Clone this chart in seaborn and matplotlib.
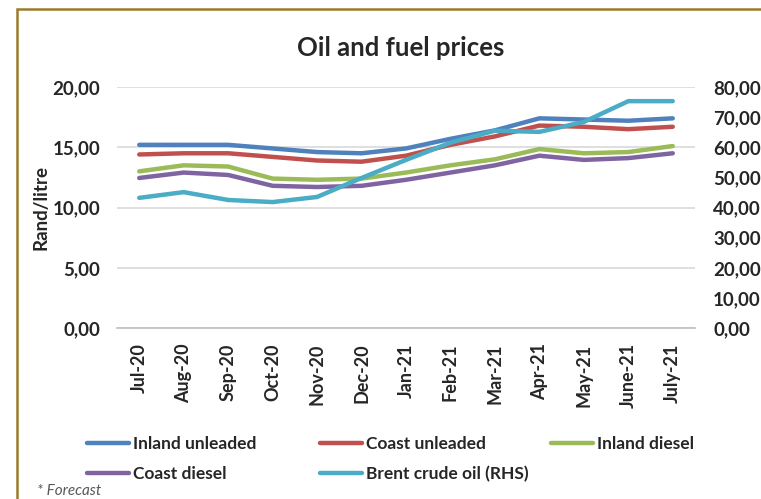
import numpy as np
import pandas as pd
import matplotlib
matplotlib.use("Agg")
import matplotlib.pyplot as plt
import seaborn as sns
from matplotlib.lines import Line2D
from matplotlib.patches import Rectangle
from matplotlib.ticker import FuncFormatter, MultipleLocator

months = ["Jul-20", "Aug-20", "Sep-20", "Oct-20", "Nov-20", "Dec-20", "Jan-21",
          "Feb-21", "Mar-21", "Apr-21", "May-21", "June-21", "July-21"]
inland_unleaded = [15.2, 15.2, 15.2, 14.9, 14.6, 14.5, 14.9, 15.7, 16.4, 17.4, 17.3, 17.2, 17.4]
coast_unleaded = [14.4, 14.5, 14.5, 14.2, 13.9, 13.8, 14.3, 15.2, 15.9, 16.8, 16.7, 16.5, 16.7]
inland_diesel = [13.0, 13.5, 13.4, 12.4, 12.3, 12.4, 12.9, 13.5, 14.0, 14.85, 14.5, 14.6, 15.1]
coast_diesel = [12.45, 12.9, 12.7, 11.8, 11.7, 11.8, 12.3, 12.9, 13.5, 14.3, 13.95, 14.1, 14.5]
brent = [43.2, 45.1, 42.5, 41.8, 43.5, 49.8, 55.8, 61.5, 65.5, 65.1, 68.4, 75.3, 75.3]

names = ["Inland unleaded", "Coast unleaded", "Inland diesel", "Coast diesel"]
colors = ["#4F81BD", "#C0504D", "#9BBB59", "#8064A2"]
brent_name = "Brent crude oil (RHS)"
brent_color = "#4BACC6"

sns.set_style("white")
plt.rcParams["font.family"] = ["Lato", "DejaVu Sans"]

df = pd.DataFrame({"month": months, **dict(zip(names, [inland_unleaded, coast_unleaded,
                                                       inland_diesel, coast_diesel]))})
long = df.melt(id_vars="month", var_name="series", value_name="price")
df_brent = pd.DataFrame({"month": months, "brent": brent})

fig = plt.figure(figsize=(7.61, 4.99), dpi=100)
ax = fig.add_axes([117 / 761, 1 - 328 / 499, (695 - 117) / 761, (328 - 87) / 499])
ax2 = ax.twinx()

sns.lineplot(data=long, x="month", y="price", hue="series", hue_order=names,
             palette=colors, sort=False, lw=3.2, legend=False, ax=ax)
sns.lineplot(data=df_brent, x="month", y="brent", color=brent_color, sort=False,
             lw=3.2, legend=False, ax=ax2)

ax.set_ylim(0, 20)
ax2.set_ylim(0, 80)
ax.set_xlim(-0.5, len(months) - 0.5)
ax.yaxis.set_major_locator(MultipleLocator(5))
ax2.yaxis.set_major_locator(MultipleLocator(10))
fmt = FuncFormatter(lambda v, p: f"{v:.2f}".replace(".", ","))
ax.yaxis.set_major_formatter(fmt)
ax2.yaxis.set_major_formatter(fmt)
ax.grid(axis="y", color="#D9D9D9", lw=1.2)
ax.set_axisbelow(True)

for a in (ax, ax2):
    for s in ["top", "left", "right"]:
        a.spines[s].set_visible(False)
    a.spines["bottom"].set_color("#BFBFBF")
    a.spines["bottom"].set_linewidth(1.2)
ax2.spines["bottom"].set_visible(False)

ax.set_xticks(range(len(months)))
ax.set_xticklabels(months, rotation=90, fontsize=13, fontweight="bold")
ax.set_xticks(np.arange(-0.5, len(months)), minor=True)
ax.tick_params(axis="x", which="major", length=0, pad=11)
ax.tick_params(axis="x", which="minor", length=5, color="#BFBFBF", width=1.2)
ax.tick_params(axis="y", length=0, pad=12, labelsize=13.5)
ax2.tick_params(axis="y", length=0, pad=13, labelsize=13.5)
for lab in ax.get_yticklabels() + ax2.get_yticklabels():
    lab.set_fontweight("bold")
ax.set_xlabel("")
ax2.set_ylabel("")
ax.set_ylabel("Rand/litre", fontsize=13.5, fontweight="bold", labelpad=2.5)

fig.text(401 / 761, 1 - 48 / 499, "Oil and fuel prices", ha="center", va="center",
         fontsize=18.5, fontweight="bold")

handles = [Line2D([], [], color=c, lw=3.2) for c in colors + [brent_color]]
labels = names + [brent_name]
cols = [[0, 3], [1, 4], [2]]
xs = [80, 313, 544]
for col, x in zip(cols, xs):
    leg = fig.legend([handles[i] for i in col], [labels[i] for i in col],
                     loc="upper left", bbox_to_anchor=(x / 761, 1 - 429 / 499),
                     frameon=False, handlelength=2.4, handletextpad=0.25,
                     labelspacing=0.8, prop={"size": 12.5, "weight": "bold"},
                     borderaxespad=0)

fig.text(37 / 761, 1 - 484 / 499, "* Forecast", ha="left", va="top", fontsize=11,
         style="italic", color="#595959")

fig.patches.append(Rectangle((17 / 761, -0.2), 1.2, 1.2 - 9 / 499 + 0.0, fill=False,
                             edgecolor="#9C7A2A", lw=1.8, transform=fig.transFigure,
                             figure=fig))

fig.savefig("out.png", dpi=100)
